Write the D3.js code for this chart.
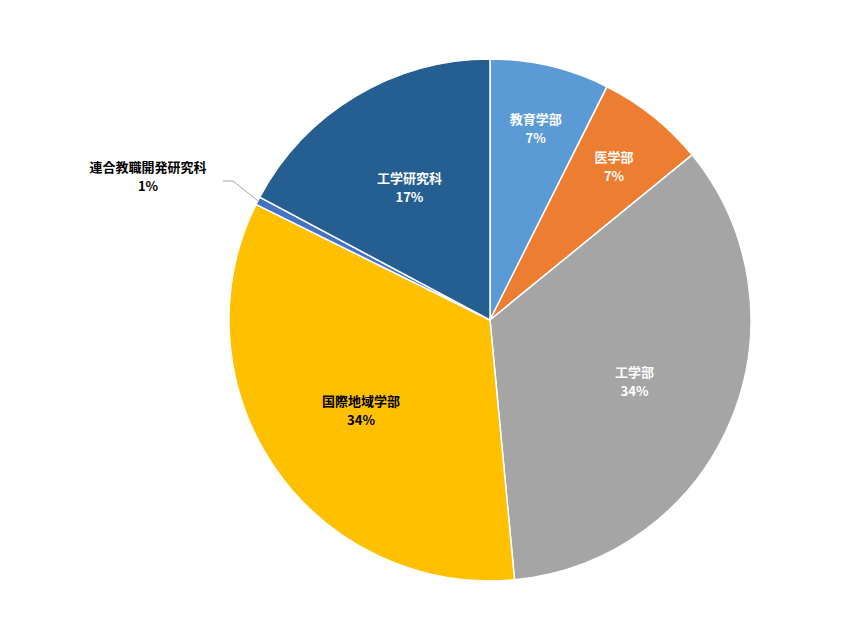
<!DOCTYPE html>
<html><head><meta charset="utf-8">
<script src="https://cdn.jsdelivr.net/npm/d3@7"></script>
<style>body{margin:0;background:#fff}text{font-family:"Noto Sans CJK JP",Arial,sans-serif;font-weight:bold;font-size:13px}</style>
</head><body><svg id="chart" width="853" height="640"></svg>
<script>
var categories = ["教育学部", "医学部", "工学部", "国際地域学部", "連合教職開発研究科", "工学研究科"];
var values = [7.4, 6.7, 34.4, 33.8, 0.5, 17.2];
var pctLabels = ["7%", "7%", "34%", "34%", "1%", "17%"];
var colors = ["#5B9BD5", "#ED7D31", "#A5A5A5", "#FFC000", "#4472C4", "#255E91"];
var textColors = ["#fff", "#fff", "#fff", "#000", "#000", "#fff"];

var cx = 490, cy = 320, R = 261;
var svg = d3.select("#chart");
var g = svg.append("g").attr("transform", "translate(" + cx + "," + cy + ")");
var pie = d3.pie().sort(null).value(function(d) { return d; });
var arcs = pie(values);
var arc = d3.arc().innerRadius(0).outerRadius(R);

g.selectAll("path").data(arcs).enter().append("path")
  .attr("d", arc).attr("fill", function(d, i) { return colors[i]; })
  .attr("stroke", "#fff").attr("stroke-width", 1.5);

arcs.forEach(function(d, i) {
  var a = (d.startAngle + d.endAngle) / 2;
  var x, y;
  if (d.value < 2) {
    // outside label with leader line
    var ex = Math.sin(a) * R, ey = -Math.cos(a) * R;
    x = -342; y = -145;
    g.append("polyline").attr("points", [[x + 75, y + 6], [x + 85, y + 6], [ex, ey]].join(" "))
      .attr("fill", "none").attr("stroke", "#a6a6a6").attr("stroke-width", 1);
  } else {
    var r = d.value < 10 ? R * 0.76 : R * 0.6;
    x = Math.sin(a) * r; y = -Math.cos(a) * r;
  }
  var t = g.append("text").attr("text-anchor", "middle").attr("fill", textColors[i]);
  t.append("tspan").attr("x", x).attr("y", y - 3).text(categories[i]);
  t.append("tspan").attr("x", x).attr("y", y + 16).text(pctLabels[i]);
});
</script></body></html>
